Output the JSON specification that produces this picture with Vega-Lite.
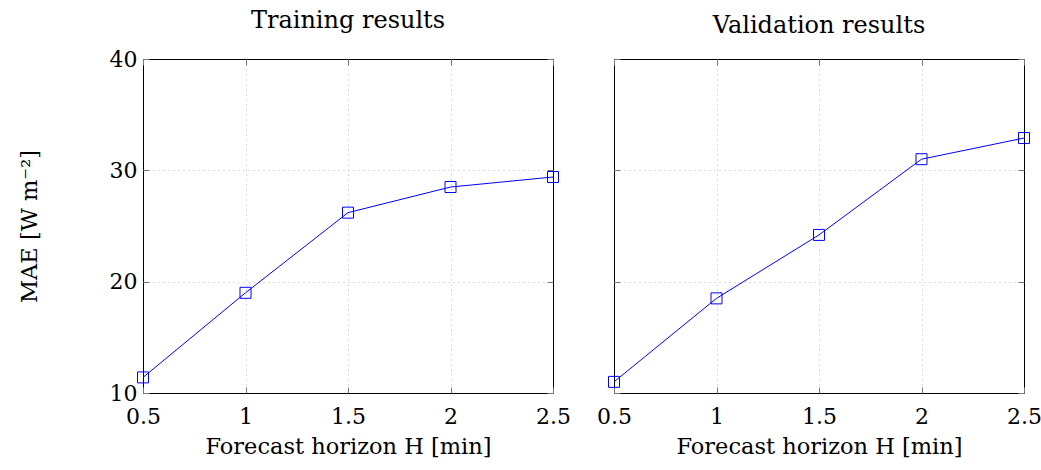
{
  "$schema": "https://vega.github.io/schema/vega-lite/v6.json",
  "padding": {"left": 17, "top": 8, "right": 5, "bottom": 0},
  "bounds": "flush",
  "spacing": 61,
  "background": "white",
  "datasets": {
    "train": [
      {"H": 0.5, "MAE": 11.4},
      {"H": 1.0, "MAE": 19.0},
      {"H": 1.5, "MAE": 26.2},
      {"H": 2.0, "MAE": 28.5},
      {"H": 2.5, "MAE": 29.4}
    ],
    "val": [
      {"H": 0.5, "MAE": 11.0},
      {"H": 1.0, "MAE": 18.5},
      {"H": 1.5, "MAE": 24.2},
      {"H": 2.0, "MAE": 31.0},
      {"H": 2.5, "MAE": 32.9}
    ]
  },
  "config": {
    "font": "DejaVu Serif",
    "view": {"stroke": "black", "strokeWidth": 1},
    "axis": {
      "labelFont": "DejaVu Serif",
      "labelFontSize": 22,
      "labelColor": "black",
      "titleFont": "DejaVu Serif",
      "titleFontSize": 22.5,
      "titleFontWeight": "normal",
      "titleColor": "black",
      "domain": false,
      "tickColor": "#777",
      "tickSize": -6,
      "gridColor": "#bbbbbb",
      "gridDash": [1, 4],
      "gridWidth": 1
    },
    "title": {"font": "DejaVu Serif", "fontSize": 24, "fontWeight": "normal", "color": "black", "baseline": "bottom"}
  },
  "hconcat": [
    {
      "width": 410,
      "height": 334,
      "title": {"text": "Training results", "offset": 15},
      "data": {"name": "train"},
      "layer": [
        {
          "mark": {"type": "line", "color": "#0000ff", "strokeWidth": 1},
          "encoding": {
            "x": {"field": "H", "type": "quantitative", "scale": {"domain": [0.5, 2.5], "nice": false},
                  "axis": {"values": [0.5, 1, 1.5, 2, 2.5], "format": "~g", "title": "Forecast horizon H [min]", "labelPadding": 19, "titlePadding": 8, "labelFlush": false,
                           "gridOpacity": {"condition": {"test": "datum.value <= 0.5 || datum.value >= 2.5", "value": 0}, "value": 1}}},
            "y": {"field": "MAE", "type": "quantitative", "scale": {"domain": [10, 40], "nice": false, "zero": false},
                  "axis": {"values": [10, 20, 30, 40], "title": "MAE [W m⁻²]", "labelPadding": 12, "titlePadding": 68, "labelFlush": false,
                           "gridOpacity": {"condition": {"test": "datum.value <= 10 || datum.value >= 40", "value": 0}, "value": 1}}}
          }
        },
        {
          "mark": {"type": "point", "shape": "square", "filled": false, "color": "#0000ff", "size": 121, "strokeWidth": 1, "opacity": 1},
          "encoding": {
            "x": {"field": "H", "type": "quantitative", "axis": null},
            "y": {"field": "MAE", "type": "quantitative", "axis": null}
          }
        },
        {
          "mark": {"type": "line", "opacity": 0},
          "encoding": {
            "x": {"field": "H", "type": "quantitative", "axis": {"orient": "top", "values": [0.5, 1, 1.5, 2, 2.5], "labels": false, "title": null, "grid": false}},
            "y": {"field": "MAE", "type": "quantitative", "axis": {"orient": "right", "values": [10, 20, 30, 40], "labels": false, "title": null, "grid": false}}
          }
        }
      ],
      "resolve": {"axis": {"x": "independent", "y": "independent"}}
    },
    {
      "width": 410,
      "height": 334,
      "title": {"text": "Validation results", "offset": 21},
      "data": {"name": "val"},
      "layer": [
        {
          "mark": {"type": "line", "color": "#0000ff", "strokeWidth": 1},
          "encoding": {
            "x": {"field": "H", "type": "quantitative", "scale": {"domain": [0.5, 2.5], "nice": false},
                  "axis": {"values": [0.5, 1, 1.5, 2, 2.5], "format": "~g", "title": "Forecast horizon H [min]", "labelPadding": 19, "titlePadding": 8, "labelFlush": false,
                           "gridOpacity": {"condition": {"test": "datum.value <= 0.5 || datum.value >= 2.5", "value": 0}, "value": 1}}},
            "y": {"field": "MAE", "type": "quantitative", "scale": {"domain": [10, 40], "nice": false, "zero": false},
                  "axis": {"values": [10, 20, 30, 40], "title": null, "labels": false,
                           "gridOpacity": {"condition": {"test": "datum.value <= 10 || datum.value >= 40", "value": 0}, "value": 1}}}
          }
        },
        {
          "mark": {"type": "point", "shape": "square", "filled": false, "color": "#0000ff", "size": 121, "strokeWidth": 1, "opacity": 1},
          "encoding": {
            "x": {"field": "H", "type": "quantitative", "axis": null},
            "y": {"field": "MAE", "type": "quantitative", "axis": null}
          }
        },
        {
          "mark": {"type": "line", "opacity": 0},
          "encoding": {
            "x": {"field": "H", "type": "quantitative", "axis": {"orient": "top", "values": [0.5, 1, 1.5, 2, 2.5], "labels": false, "title": null, "grid": false}},
            "y": {"field": "MAE", "type": "quantitative", "axis": {"orient": "right", "values": [10, 20, 30, 40], "labels": false, "title": null, "grid": false}}
          }
        }
      ],
      "resolve": {"axis": {"x": "independent", "y": "independent"}}
    }
  ]
}
